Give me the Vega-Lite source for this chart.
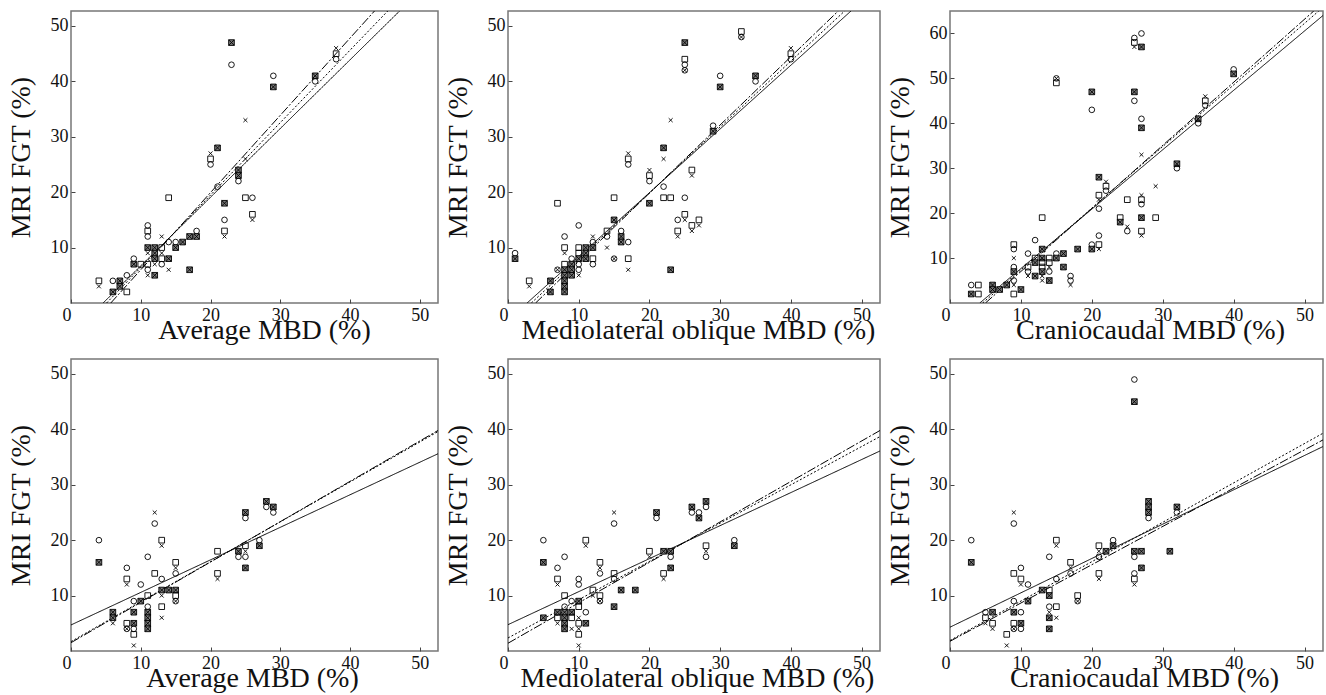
{
  "$schema": "https://vega.github.io/schema/vega-lite/v6.json",
  "padding": {"left": 6, "top": 10, "right": 3, "bottom": 0},
  "background": "white",
  "datasets": {
    "p1": [
      {"mbd":4,"fgt":4,"marker":"s"},{"mbd":4,"fgt":3,"marker":"x"},
      {"mbd":6,"fgt":4,"marker":"o"},{"mbd":6,"fgt":2,"marker":"xs"},
      {"mbd":7,"fgt":4,"marker":"xs"},{"mbd":7,"fgt":3,"marker":"xs"},
      {"mbd":8,"fgt":5,"marker":"o"},{"mbd":8,"fgt":2,"marker":"s"},
      {"mbd":9,"fgt":8,"marker":"o"},{"mbd":9,"fgt":7,"marker":"xs"},
      {"mbd":10,"fgt":7,"marker":"s"},
      {"mbd":11,"fgt":14,"marker":"o"},{"mbd":11,"fgt":13,"marker":"s"},{"mbd":11,"fgt":12,"marker":"o"},{"mbd":11,"fgt":10,"marker":"xs"},{"mbd":11,"fgt":9,"marker":"x"},{"mbd":11,"fgt":7,"marker":"s"},{"mbd":11,"fgt":6,"marker":"o"},{"mbd":11,"fgt":5,"marker":"x"},
      {"mbd":12,"fgt":10,"marker":"xs"},{"mbd":12,"fgt":9,"marker":"xs"},{"mbd":12,"fgt":8,"marker":"xs"},{"mbd":12,"fgt":7,"marker":"x"},{"mbd":12,"fgt":5,"marker":"xs"},
      {"mbd":13,"fgt":12,"marker":"x"},{"mbd":13,"fgt":10,"marker":"s"},{"mbd":13,"fgt":9,"marker":"x"},{"mbd":13,"fgt":8,"marker":"s"},{"mbd":13,"fgt":7,"marker":"o"},
      {"mbd":14,"fgt":19,"marker":"s"},{"mbd":14,"fgt":11,"marker":"o"},{"mbd":14,"fgt":8,"marker":"xs"},{"mbd":14,"fgt":6,"marker":"x"},
      {"mbd":15,"fgt":11,"marker":"o"},{"mbd":15,"fgt":10,"marker":"xs"},
      {"mbd":16,"fgt":11,"marker":"xs"},
      {"mbd":17,"fgt":12,"marker":"xs"},{"mbd":17,"fgt":6,"marker":"xs"},
      {"mbd":18,"fgt":13,"marker":"o"},{"mbd":18,"fgt":12,"marker":"xs"},
      {"mbd":20,"fgt":27,"marker":"x"},{"mbd":20,"fgt":26,"marker":"s"},{"mbd":20,"fgt":25,"marker":"o"},
      {"mbd":21,"fgt":28,"marker":"xs"},{"mbd":21,"fgt":21,"marker":"o"},
      {"mbd":22,"fgt":18,"marker":"xs"},{"mbd":22,"fgt":15,"marker":"o"},{"mbd":22,"fgt":13,"marker":"s"},{"mbd":22,"fgt":12,"marker":"x"},
      {"mbd":23,"fgt":47,"marker":"xs"},{"mbd":23,"fgt":43,"marker":"o"},
      {"mbd":24,"fgt":24,"marker":"xs"},{"mbd":24,"fgt":23,"marker":"xs"},{"mbd":24,"fgt":22,"marker":"o"},
      {"mbd":25,"fgt":33,"marker":"x"},{"mbd":25,"fgt":26,"marker":"x"},{"mbd":25,"fgt":19,"marker":"s"},
      {"mbd":26,"fgt":19,"marker":"o"},{"mbd":26,"fgt":16,"marker":"s"},{"mbd":26,"fgt":15,"marker":"x"},
      {"mbd":29,"fgt":41,"marker":"o"},{"mbd":29,"fgt":39,"marker":"xs"},
      {"mbd":35,"fgt":41,"marker":"xs"},{"mbd":35,"fgt":40,"marker":"o"},
      {"mbd":38,"fgt":46,"marker":"x"},{"mbd":38,"fgt":45,"marker":"s"},{"mbd":38,"fgt":44,"marker":"o"}
    ],
    "p2": [
      {"mbd":1,"fgt":9,"marker":"o"},{"mbd":1,"fgt":8,"marker":"xs"},
      {"mbd":3,"fgt":4,"marker":"s"},{"mbd":3,"fgt":3,"marker":"x"},
      {"mbd":6,"fgt":4,"marker":"xs"},{"mbd":6,"fgt":2,"marker":"xs"},
      {"mbd":7,"fgt":18,"marker":"s"},{"mbd":7,"fgt":6,"marker":"o"},{"mbd":7,"fgt":6,"marker":"x"},
      {"mbd":8,"fgt":12,"marker":"o"},{"mbd":8,"fgt":10,"marker":"s"},{"mbd":8,"fgt":9,"marker":"x"},{"mbd":8,"fgt":7,"marker":"s"},{"mbd":8,"fgt":6,"marker":"xs"},{"mbd":8,"fgt":5,"marker":"xs"},{"mbd":8,"fgt":4,"marker":"xs"},{"mbd":8,"fgt":3,"marker":"xs"},{"mbd":8,"fgt":2,"marker":"xs"},
      {"mbd":9,"fgt":8,"marker":"o"},{"mbd":9,"fgt":7,"marker":"xs"},{"mbd":9,"fgt":6,"marker":"xs"},{"mbd":9,"fgt":5,"marker":"xs"},
      {"mbd":10,"fgt":14,"marker":"o"},{"mbd":10,"fgt":10,"marker":"s"},{"mbd":10,"fgt":9,"marker":"s"},{"mbd":10,"fgt":8,"marker":"xs"},{"mbd":10,"fgt":7,"marker":"o"},{"mbd":10,"fgt":6,"marker":"o"},{"mbd":10,"fgt":5,"marker":"x"},
      {"mbd":11,"fgt":10,"marker":"xs"},{"mbd":11,"fgt":9,"marker":"xs"},{"mbd":11,"fgt":8,"marker":"xs"},
      {"mbd":12,"fgt":12,"marker":"x"},{"mbd":12,"fgt":11,"marker":"o"},{"mbd":12,"fgt":10,"marker":"xs"},{"mbd":12,"fgt":8,"marker":"s"},{"mbd":12,"fgt":7,"marker":"o"},
      {"mbd":14,"fgt":13,"marker":"s"},{"mbd":14,"fgt":12,"marker":"o"},{"mbd":14,"fgt":10,"marker":"x"},
      {"mbd":15,"fgt":19,"marker":"s"},{"mbd":15,"fgt":15,"marker":"xs"},{"mbd":15,"fgt":8,"marker":"o"},{"mbd":15,"fgt":8,"marker":"x"},
      {"mbd":16,"fgt":13,"marker":"o"},{"mbd":16,"fgt":12,"marker":"xs"},{"mbd":16,"fgt":11,"marker":"xs"},
      {"mbd":17,"fgt":27,"marker":"x"},{"mbd":17,"fgt":26,"marker":"s"},{"mbd":17,"fgt":25,"marker":"o"},{"mbd":17,"fgt":11,"marker":"o"},{"mbd":17,"fgt":8,"marker":"s"},{"mbd":17,"fgt":6,"marker":"x"},
      {"mbd":20,"fgt":24,"marker":"x"},{"mbd":20,"fgt":23,"marker":"s"},{"mbd":20,"fgt":22,"marker":"o"},{"mbd":20,"fgt":18,"marker":"xs"},
      {"mbd":22,"fgt":28,"marker":"xs"},{"mbd":22,"fgt":26,"marker":"x"},{"mbd":22,"fgt":21,"marker":"o"},{"mbd":22,"fgt":19,"marker":"s"},
      {"mbd":23,"fgt":33,"marker":"x"},{"mbd":23,"fgt":19,"marker":"s"},{"mbd":23,"fgt":6,"marker":"xs"},
      {"mbd":24,"fgt":15,"marker":"o"},{"mbd":24,"fgt":13,"marker":"s"},{"mbd":24,"fgt":12,"marker":"x"},
      {"mbd":25,"fgt":47,"marker":"xs"},{"mbd":25,"fgt":44,"marker":"s"},{"mbd":25,"fgt":43,"marker":"o"},{"mbd":25,"fgt":42,"marker":"o"},{"mbd":25,"fgt":42,"marker":"x"},{"mbd":25,"fgt":19,"marker":"o"},{"mbd":25,"fgt":16,"marker":"s"},{"mbd":25,"fgt":15,"marker":"x"},
      {"mbd":26,"fgt":24,"marker":"s"},{"mbd":26,"fgt":23,"marker":"x"},{"mbd":26,"fgt":14,"marker":"s"},{"mbd":26,"fgt":13,"marker":"x"},
      {"mbd":27,"fgt":15,"marker":"s"},{"mbd":27,"fgt":14,"marker":"x"},
      {"mbd":29,"fgt":32,"marker":"o"},{"mbd":29,"fgt":31,"marker":"xs"},
      {"mbd":30,"fgt":41,"marker":"o"},{"mbd":30,"fgt":39,"marker":"xs"},
      {"mbd":33,"fgt":49,"marker":"s"},{"mbd":33,"fgt":48,"marker":"o"},{"mbd":33,"fgt":48,"marker":"x"},
      {"mbd":35,"fgt":41,"marker":"xs"},{"mbd":35,"fgt":40,"marker":"o"},
      {"mbd":40,"fgt":46,"marker":"x"},{"mbd":40,"fgt":45,"marker":"s"},{"mbd":40,"fgt":44,"marker":"o"}
    ],
    "p3": [
      {"mbd":3,"fgt":4,"marker":"o"},{"mbd":3,"fgt":2,"marker":"xs"},
      {"mbd":4,"fgt":4,"marker":"s"},{"mbd":4,"fgt":2,"marker":"s"},
      {"mbd":6,"fgt":4,"marker":"xs"},{"mbd":6,"fgt":3,"marker":"xs"},
      {"mbd":7,"fgt":3,"marker":"xs"},
      {"mbd":8,"fgt":4,"marker":"xs"},
      {"mbd":9,"fgt":13,"marker":"s"},{"mbd":9,"fgt":12,"marker":"o"},{"mbd":9,"fgt":10,"marker":"x"},{"mbd":9,"fgt":8,"marker":"o"},{"mbd":9,"fgt":7,"marker":"xs"},{"mbd":9,"fgt":5,"marker":"o"},{"mbd":9,"fgt":4,"marker":"x"},{"mbd":9,"fgt":2,"marker":"s"},
      {"mbd":10,"fgt":3,"marker":"xs"},
      {"mbd":11,"fgt":11,"marker":"o"},{"mbd":11,"fgt":8,"marker":"s"},{"mbd":11,"fgt":7,"marker":"o"},{"mbd":11,"fgt":6,"marker":"x"},
      {"mbd":12,"fgt":14,"marker":"o"},{"mbd":12,"fgt":10,"marker":"s"},{"mbd":12,"fgt":9,"marker":"xs"},{"mbd":12,"fgt":6,"marker":"xs"},
      {"mbd":13,"fgt":19,"marker":"s"},{"mbd":13,"fgt":12,"marker":"xs"},{"mbd":13,"fgt":10,"marker":"xs"},{"mbd":13,"fgt":9,"marker":"s"},{"mbd":13,"fgt":8,"marker":"s"},{"mbd":13,"fgt":7,"marker":"xs"},{"mbd":13,"fgt":6,"marker":"x"},{"mbd":13,"fgt":5,"marker":"x"},
      {"mbd":14,"fgt":10,"marker":"s"},{"mbd":14,"fgt":9,"marker":"s"},{"mbd":14,"fgt":8,"marker":"x"},{"mbd":14,"fgt":7,"marker":"o"},{"mbd":14,"fgt":5,"marker":"xs"},
      {"mbd":15,"fgt":50,"marker":"o"},{"mbd":15,"fgt":50,"marker":"x"},{"mbd":15,"fgt":49,"marker":"s"},{"mbd":15,"fgt":11,"marker":"o"},{"mbd":15,"fgt":10,"marker":"xs"},
      {"mbd":16,"fgt":11,"marker":"xs"},{"mbd":16,"fgt":8,"marker":"xs"},
      {"mbd":17,"fgt":6,"marker":"o"},{"mbd":17,"fgt":5,"marker":"o"},{"mbd":17,"fgt":4,"marker":"x"},
      {"mbd":18,"fgt":12,"marker":"xs"},
      {"mbd":20,"fgt":47,"marker":"xs"},{"mbd":20,"fgt":43,"marker":"o"},{"mbd":20,"fgt":13,"marker":"o"},{"mbd":20,"fgt":12,"marker":"xs"},
      {"mbd":21,"fgt":28,"marker":"xs"},{"mbd":21,"fgt":24,"marker":"s"},{"mbd":21,"fgt":23,"marker":"x"},{"mbd":21,"fgt":21,"marker":"o"},{"mbd":21,"fgt":15,"marker":"o"},{"mbd":21,"fgt":13,"marker":"s"},{"mbd":21,"fgt":12,"marker":"x"},
      {"mbd":22,"fgt":27,"marker":"x"},{"mbd":22,"fgt":26,"marker":"s"},{"mbd":22,"fgt":25,"marker":"o"},
      {"mbd":24,"fgt":19,"marker":"s"},{"mbd":24,"fgt":18,"marker":"xs"},
      {"mbd":25,"fgt":23,"marker":"s"},{"mbd":25,"fgt":17,"marker":"x"},{"mbd":25,"fgt":16,"marker":"o"},
      {"mbd":26,"fgt":59,"marker":"o"},{"mbd":26,"fgt":58,"marker":"s"},{"mbd":26,"fgt":57,"marker":"x"},{"mbd":26,"fgt":47,"marker":"xs"},{"mbd":26,"fgt":45,"marker":"o"},
      {"mbd":27,"fgt":60,"marker":"o"},{"mbd":27,"fgt":57,"marker":"xs"},{"mbd":27,"fgt":41,"marker":"o"},{"mbd":27,"fgt":39,"marker":"xs"},{"mbd":27,"fgt":33,"marker":"x"},{"mbd":27,"fgt":24,"marker":"x"},{"mbd":27,"fgt":23,"marker":"s"},{"mbd":27,"fgt":22,"marker":"o"},{"mbd":27,"fgt":19,"marker":"xs"},{"mbd":27,"fgt":16,"marker":"s"},{"mbd":27,"fgt":15,"marker":"x"},
      {"mbd":29,"fgt":26,"marker":"x"},{"mbd":29,"fgt":19,"marker":"s"},
      {"mbd":32,"fgt":31,"marker":"xs"},{"mbd":32,"fgt":30,"marker":"o"},
      {"mbd":35,"fgt":41,"marker":"xs"},{"mbd":35,"fgt":40,"marker":"o"},
      {"mbd":36,"fgt":46,"marker":"x"},{"mbd":36,"fgt":45,"marker":"s"},{"mbd":36,"fgt":44,"marker":"o"},
      {"mbd":40,"fgt":52,"marker":"o"},{"mbd":40,"fgt":51,"marker":"xs"}
    ],
    "p4": [
      {"mbd":4,"fgt":20,"marker":"o"},{"mbd":4,"fgt":16,"marker":"xs"},
      {"mbd":6,"fgt":7,"marker":"xs"},{"mbd":6,"fgt":6,"marker":"xs"},{"mbd":6,"fgt":5,"marker":"x"},
      {"mbd":8,"fgt":15,"marker":"o"},{"mbd":8,"fgt":13,"marker":"s"},{"mbd":8,"fgt":12,"marker":"x"},{"mbd":8,"fgt":5,"marker":"s"},{"mbd":8,"fgt":4,"marker":"o"},{"mbd":8,"fgt":4,"marker":"x"},
      {"mbd":9,"fgt":9,"marker":"o"},{"mbd":9,"fgt":7,"marker":"xs"},{"mbd":9,"fgt":5,"marker":"xs"},{"mbd":9,"fgt":4,"marker":"o"},{"mbd":9,"fgt":3,"marker":"s"},{"mbd":9,"fgt":1,"marker":"x"},
      {"mbd":10,"fgt":12,"marker":"o"},{"mbd":10,"fgt":9,"marker":"xs"},
      {"mbd":11,"fgt":17,"marker":"o"},{"mbd":11,"fgt":10,"marker":"s"},{"mbd":11,"fgt":8,"marker":"o"},{"mbd":11,"fgt":7,"marker":"xs"},{"mbd":11,"fgt":6,"marker":"xs"},{"mbd":11,"fgt":5,"marker":"xs"},{"mbd":11,"fgt":4,"marker":"xs"},
      {"mbd":12,"fgt":25,"marker":"x"},{"mbd":12,"fgt":23,"marker":"o"},{"mbd":12,"fgt":14,"marker":"s"},
      {"mbd":13,"fgt":20,"marker":"s"},{"mbd":13,"fgt":19,"marker":"x"},{"mbd":13,"fgt":13,"marker":"o"},{"mbd":13,"fgt":11,"marker":"xs"},{"mbd":13,"fgt":10,"marker":"x"},{"mbd":13,"fgt":8,"marker":"s"},{"mbd":13,"fgt":6,"marker":"x"},
      {"mbd":14,"fgt":11,"marker":"xs"},
      {"mbd":15,"fgt":16,"marker":"s"},{"mbd":15,"fgt":15,"marker":"x"},{"mbd":15,"fgt":14,"marker":"o"},{"mbd":15,"fgt":11,"marker":"xs"},{"mbd":15,"fgt":10,"marker":"s"},{"mbd":15,"fgt":9,"marker":"o"},{"mbd":15,"fgt":9,"marker":"x"},
      {"mbd":21,"fgt":18,"marker":"s"},{"mbd":21,"fgt":14,"marker":"s"},{"mbd":21,"fgt":13,"marker":"x"},
      {"mbd":24,"fgt":18,"marker":"xs"},{"mbd":24,"fgt":17,"marker":"o"},
      {"mbd":25,"fgt":25,"marker":"xs"},{"mbd":25,"fgt":24,"marker":"o"},{"mbd":25,"fgt":19,"marker":"s"},{"mbd":25,"fgt":18,"marker":"x"},{"mbd":25,"fgt":17,"marker":"o"},{"mbd":25,"fgt":15,"marker":"xs"},
      {"mbd":27,"fgt":20,"marker":"o"},{"mbd":27,"fgt":19,"marker":"xs"},
      {"mbd":28,"fgt":27,"marker":"xs"},{"mbd":28,"fgt":26,"marker":"o"},
      {"mbd":29,"fgt":26,"marker":"xs"},{"mbd":29,"fgt":25,"marker":"o"}
    ],
    "p5": [
      {"mbd":5,"fgt":20,"marker":"o"},{"mbd":5,"fgt":16,"marker":"xs"},{"mbd":5,"fgt":6,"marker":"xs"},
      {"mbd":7,"fgt":15,"marker":"o"},{"mbd":7,"fgt":13,"marker":"s"},{"mbd":7,"fgt":12,"marker":"x"},{"mbd":7,"fgt":7,"marker":"xs"},{"mbd":7,"fgt":6,"marker":"s"},{"mbd":7,"fgt":5,"marker":"x"},
      {"mbd":8,"fgt":17,"marker":"o"},{"mbd":8,"fgt":10,"marker":"s"},{"mbd":8,"fgt":8,"marker":"o"},{"mbd":8,"fgt":7,"marker":"xs"},{"mbd":8,"fgt":6,"marker":"xs"},{"mbd":8,"fgt":5,"marker":"xs"},{"mbd":8,"fgt":4,"marker":"xs"},
      {"mbd":9,"fgt":9,"marker":"o"},{"mbd":9,"fgt":7,"marker":"xs"},{"mbd":9,"fgt":6,"marker":"s"},{"mbd":9,"fgt":4,"marker":"x"},
      {"mbd":10,"fgt":13,"marker":"o"},{"mbd":10,"fgt":12,"marker":"o"},{"mbd":10,"fgt":9,"marker":"xs"},{"mbd":10,"fgt":8,"marker":"s"},{"mbd":10,"fgt":6,"marker":"x"},{"mbd":10,"fgt":5,"marker":"s"},{"mbd":10,"fgt":4,"marker":"x"},{"mbd":10,"fgt":3,"marker":"s"},{"mbd":10,"fgt":1,"marker":"x"},
      {"mbd":11,"fgt":20,"marker":"s"},{"mbd":11,"fgt":19,"marker":"x"},{"mbd":11,"fgt":7,"marker":"o"},{"mbd":11,"fgt":5,"marker":"xs"},
      {"mbd":12,"fgt":11,"marker":"s"},{"mbd":12,"fgt":10,"marker":"x"},
      {"mbd":13,"fgt":16,"marker":"s"},{"mbd":13,"fgt":15,"marker":"x"},{"mbd":13,"fgt":14,"marker":"o"},{"mbd":13,"fgt":10,"marker":"s"},{"mbd":13,"fgt":9,"marker":"o"},{"mbd":13,"fgt":9,"marker":"x"},
      {"mbd":15,"fgt":25,"marker":"x"},{"mbd":15,"fgt":23,"marker":"o"},{"mbd":15,"fgt":14,"marker":"s"},{"mbd":15,"fgt":13,"marker":"o"},{"mbd":15,"fgt":8,"marker":"xs"},
      {"mbd":16,"fgt":11,"marker":"xs"},
      {"mbd":18,"fgt":11,"marker":"xs"},
      {"mbd":20,"fgt":18,"marker":"s"},{"mbd":20,"fgt":17,"marker":"x"},
      {"mbd":21,"fgt":25,"marker":"xs"},{"mbd":21,"fgt":24,"marker":"o"},
      {"mbd":22,"fgt":18,"marker":"xs"},{"mbd":22,"fgt":14,"marker":"s"},{"mbd":22,"fgt":13,"marker":"x"},
      {"mbd":23,"fgt":18,"marker":"xs"},{"mbd":23,"fgt":17,"marker":"o"},{"mbd":23,"fgt":15,"marker":"xs"},
      {"mbd":26,"fgt":26,"marker":"xs"},{"mbd":26,"fgt":25,"marker":"o"},
      {"mbd":27,"fgt":25,"marker":"o"},{"mbd":27,"fgt":24,"marker":"xs"},
      {"mbd":28,"fgt":27,"marker":"xs"},{"mbd":28,"fgt":26,"marker":"o"},{"mbd":28,"fgt":19,"marker":"s"},{"mbd":28,"fgt":18,"marker":"x"},{"mbd":28,"fgt":17,"marker":"o"},
      {"mbd":32,"fgt":20,"marker":"o"},{"mbd":32,"fgt":19,"marker":"xs"}
    ],
    "p6": [
      {"mbd":3,"fgt":20,"marker":"o"},{"mbd":3,"fgt":16,"marker":"xs"},
      {"mbd":5,"fgt":7,"marker":"o"},{"mbd":5,"fgt":6,"marker":"s"},{"mbd":5,"fgt":5,"marker":"x"},
      {"mbd":6,"fgt":7,"marker":"xs"},{"mbd":6,"fgt":5,"marker":"s"},{"mbd":6,"fgt":4,"marker":"x"},
      {"mbd":8,"fgt":3,"marker":"s"},{"mbd":8,"fgt":1,"marker":"x"},
      {"mbd":9,"fgt":25,"marker":"x"},{"mbd":9,"fgt":23,"marker":"o"},{"mbd":9,"fgt":14,"marker":"s"},{"mbd":9,"fgt":9,"marker":"o"},{"mbd":9,"fgt":7,"marker":"xs"},{"mbd":9,"fgt":5,"marker":"s"},{"mbd":9,"fgt":4,"marker":"o"},{"mbd":9,"fgt":4,"marker":"x"},
      {"mbd":10,"fgt":15,"marker":"o"},{"mbd":10,"fgt":13,"marker":"s"},{"mbd":10,"fgt":12,"marker":"x"},{"mbd":10,"fgt":7,"marker":"o"},{"mbd":10,"fgt":5,"marker":"xs"},{"mbd":10,"fgt":4,"marker":"o"},
      {"mbd":11,"fgt":12,"marker":"o"},{"mbd":11,"fgt":9,"marker":"xs"},
      {"mbd":13,"fgt":11,"marker":"xs"},
      {"mbd":14,"fgt":17,"marker":"o"},{"mbd":14,"fgt":11,"marker":"s"},{"mbd":14,"fgt":10,"marker":"xs"},{"mbd":14,"fgt":8,"marker":"o"},{"mbd":14,"fgt":7,"marker":"x"},{"mbd":14,"fgt":6,"marker":"xs"},{"mbd":14,"fgt":4,"marker":"xs"},
      {"mbd":15,"fgt":20,"marker":"s"},{"mbd":15,"fgt":19,"marker":"x"},{"mbd":15,"fgt":13,"marker":"o"},{"mbd":15,"fgt":8,"marker":"s"},{"mbd":15,"fgt":6,"marker":"x"},
      {"mbd":17,"fgt":16,"marker":"s"},{"mbd":17,"fgt":15,"marker":"x"},{"mbd":17,"fgt":14,"marker":"o"},
      {"mbd":18,"fgt":10,"marker":"s"},{"mbd":18,"fgt":9,"marker":"o"},{"mbd":18,"fgt":9,"marker":"x"},
      {"mbd":21,"fgt":19,"marker":"s"},{"mbd":21,"fgt":18,"marker":"x"},{"mbd":21,"fgt":17,"marker":"o"},{"mbd":21,"fgt":14,"marker":"s"},{"mbd":21,"fgt":13,"marker":"x"},
      {"mbd":22,"fgt":18,"marker":"xs"},
      {"mbd":23,"fgt":20,"marker":"o"},{"mbd":23,"fgt":19,"marker":"xs"},
      {"mbd":26,"fgt":49,"marker":"o"},{"mbd":26,"fgt":45,"marker":"xs"},{"mbd":26,"fgt":18,"marker":"xs"},{"mbd":26,"fgt":17,"marker":"o"},{"mbd":26,"fgt":14,"marker":"o"},{"mbd":26,"fgt":13,"marker":"s"},{"mbd":26,"fgt":12,"marker":"x"},
      {"mbd":27,"fgt":18,"marker":"xs"},{"mbd":27,"fgt":15,"marker":"xs"},
      {"mbd":28,"fgt":27,"marker":"xs"},{"mbd":28,"fgt":26,"marker":"xs"},{"mbd":28,"fgt":25,"marker":"xs"},{"mbd":28,"fgt":24,"marker":"o"},
      {"mbd":31,"fgt":18,"marker":"xs"},
      {"mbd":32,"fgt":26,"marker":"xs"},{"mbd":32,"fgt":25,"marker":"o"}
    ],
    "l1": [
      {"mbd":4.6,"fgt":0,"line":"solid"},{"mbd":47.1,"fgt":52.7,"line":"solid"},
      {"mbd":5.1,"fgt":0,"line":"dotted"},{"mbd":45.4,"fgt":52.7,"line":"dotted"},
      {"mbd":5.7,"fgt":0,"line":"dashdot"},{"mbd":43.5,"fgt":52.7,"line":"dashdot"}
    ],
    "l2": [
      {"mbd":2.7,"fgt":0,"line":"solid"},{"mbd":48.5,"fgt":52.7,"line":"solid"},
      {"mbd":3.3,"fgt":0,"line":"dotted"},{"mbd":47.6,"fgt":52.7,"line":"dotted"},
      {"mbd":3.9,"fgt":0,"line":"dashdot"},{"mbd":46.7,"fgt":52.7,"line":"dashdot"}
    ],
    "l3": [
      {"mbd":4.2,"fgt":0,"line":"solid"},{"mbd":52.6,"fgt":64,"line":"solid"},
      {"mbd":4.6,"fgt":0,"line":"dotted"},{"mbd":52.0,"fgt":65,"line":"dotted"},
      {"mbd":5.0,"fgt":0,"line":"dashdot"},{"mbd":51.3,"fgt":65,"line":"dashdot"}
    ],
    "l4": [
      {"mbd":0,"fgt":4.7,"line":"solid"},{"mbd":52.6,"fgt":35.6,"line":"solid"},
      {"mbd":0,"fgt":1.7,"line":"dotted"},{"mbd":52.6,"fgt":39.6,"line":"dotted"},
      {"mbd":0,"fgt":1.5,"line":"dashdot"},{"mbd":52.6,"fgt":39.8,"line":"dashdot"}
    ],
    "l5": [
      {"mbd":0,"fgt":4.75,"line":"solid"},{"mbd":52.6,"fgt":36.1,"line":"solid"},
      {"mbd":0,"fgt":2.35,"line":"dotted"},{"mbd":52.6,"fgt":38.7,"line":"dotted"},
      {"mbd":0,"fgt":1.4,"line":"dashdot"},{"mbd":52.6,"fgt":39.8,"line":"dashdot"}
    ],
    "l6": [
      {"mbd":0,"fgt":4.3,"line":"solid"},{"mbd":52.6,"fgt":36.9,"line":"solid"},
      {"mbd":0,"fgt":1.9,"line":"dotted"},{"mbd":52.6,"fgt":39.3,"line":"dotted"},
      {"mbd":0,"fgt":1.75,"line":"dashdot"},{"mbd":52.6,"fgt":38.1,"line":"dashdot"}
    ]
  },
  "columns": 3,
  "spacing": {"row": 56, "column": 70},
  "bounds": "flush",
  "concat": [
    {
      "width": 367, "height": 292,
      "layer": [
        {"data": {"name": "l1"}, "mark": {"type": "line", "color": "black", "strokeWidth": 1, "clip": true},
         "encoding": {
           "x": {"field": "mbd", "type": "quantitative", "scale": {"domain": [0, 52.6], "nice": false, "zero": false}, "axis": {"title": "Average MBD (%)", "values": [0,10,20,30,40,50], "titleX": 193}},
           "y": {"field": "fgt", "type": "quantitative", "scale": {"domain": [0, 52.7], "nice": false, "zero": false}, "axis": {"title": "MRI FGT (%)", "values": [10,20,30,40,50]}},
           "detail": {"field": "line"},
           "strokeDash": {"field": "line", "type": "nominal", "scale": {"domain": ["solid","dotted","dashdot"], "range": [[1,0],[2,2],[9,2,2,2]]}, "legend": null}}},
        {"data": {"name": "p1"}, "mark": {"type": "point", "filled": true, "stroke": "black", "strokeWidth": 0.9, "size": 32, "opacity": 1},
         "encoding": {
           "x": {"field": "mbd", "type": "quantitative"},
           "y": {"field": "fgt", "type": "quantitative"},
           "shape": {"field": "marker", "type": "nominal", "scale": {"domain": ["o","xs","s","x"], "range": ["circle","M-1,-1H1V1H-1ZM-1,-1L1,1M-1,1L1,-1","square","M-0.7,-0.7L0.7,0.7M-0.7,0.7L0.7,-0.7"]}, "legend": null},
           "fill": {"field": "marker", "type": "nominal", "scale": {"domain": ["o","xs","s","x"], "range": ["transparent","#7a7a7a","transparent","transparent"]}, "legend": null}}}
      ]
    },
    {
      "width": 372, "height": 292,
      "layer": [
        {"data": {"name": "l2"}, "mark": {"type": "line", "color": "black", "strokeWidth": 1, "clip": true},
         "encoding": {
           "x": {"field": "mbd", "type": "quantitative", "scale": {"domain": [0, 52.6], "nice": false, "zero": false}, "axis": {"title": "Mediolateral oblique MBD (%)", "values": [0,10,20,30,40,50], "titleX": 190}},
           "y": {"field": "fgt", "type": "quantitative", "scale": {"domain": [0, 52.7], "nice": false, "zero": false}, "axis": {"title": "MRI FGT (%)", "values": [10,20,30,40,50]}},
           "detail": {"field": "line"},
           "strokeDash": {"field": "line", "type": "nominal", "scale": {"domain": ["solid","dotted","dashdot"], "range": [[1,0],[2,2],[9,2,2,2]]}, "legend": null}}},
        {"data": {"name": "p2"}, "mark": {"type": "point", "filled": true, "stroke": "black", "strokeWidth": 0.9, "size": 32, "opacity": 1},
         "encoding": {
           "x": {"field": "mbd", "type": "quantitative"},
           "y": {"field": "fgt", "type": "quantitative"},
           "shape": {"field": "marker", "type": "nominal", "scale": {"domain": ["o","xs","s","x"], "range": ["circle","M-1,-1H1V1H-1ZM-1,-1L1,1M-1,1L1,-1","square","M-0.7,-0.7L0.7,0.7M-0.7,0.7L0.7,-0.7"]}, "legend": null},
           "fill": {"field": "marker", "type": "nominal", "scale": {"domain": ["o","xs","s","x"], "range": ["transparent","#7a7a7a","transparent","transparent"]}, "legend": null}}}
      ]
    },
    {
      "width": 373, "height": 292,
      "layer": [
        {"data": {"name": "l3"}, "mark": {"type": "line", "color": "black", "strokeWidth": 1, "clip": true},
         "encoding": {
           "x": {"field": "mbd", "type": "quantitative", "scale": {"domain": [0, 52.6], "nice": false, "zero": false}, "axis": {"title": "Craniocaudal MBD (%)", "values": [0,10,20,30,40,50], "titleX": 200}},
           "y": {"field": "fgt", "type": "quantitative", "scale": {"domain": [0, 65], "nice": false, "zero": false}, "axis": {"title": "MRI FGT (%)", "values": [10,20,30,40,50,60]}},
           "detail": {"field": "line"},
           "strokeDash": {"field": "line", "type": "nominal", "scale": {"domain": ["solid","dotted","dashdot"], "range": [[1,0],[2,2],[9,2,2,2]]}, "legend": null}}},
        {"data": {"name": "p3"}, "mark": {"type": "point", "filled": true, "stroke": "black", "strokeWidth": 0.9, "size": 32, "opacity": 1},
         "encoding": {
           "x": {"field": "mbd", "type": "quantitative"},
           "y": {"field": "fgt", "type": "quantitative"},
           "shape": {"field": "marker", "type": "nominal", "scale": {"domain": ["o","xs","s","x"], "range": ["circle","M-1,-1H1V1H-1ZM-1,-1L1,1M-1,1L1,-1","square","M-0.7,-0.7L0.7,0.7M-0.7,0.7L0.7,-0.7"]}, "legend": null},
           "fill": {"field": "marker", "type": "nominal", "scale": {"domain": ["o","xs","s","x"], "range": ["transparent","#7a7a7a","transparent","transparent"]}, "legend": null}}}
      ]
    },
    {
      "width": 367, "height": 292,
      "layer": [
        {"data": {"name": "l4"}, "mark": {"type": "line", "color": "black", "strokeWidth": 1, "clip": true},
         "encoding": {
           "x": {"field": "mbd", "type": "quantitative", "scale": {"domain": [0, 52.6], "nice": false, "zero": false}, "axis": {"title": "Average MBD (%)", "values": [0,10,20,30,40,50], "titleX": 181}},
           "y": {"field": "fgt", "type": "quantitative", "scale": {"domain": [0, 52.7], "nice": false, "zero": false}, "axis": {"title": "MRI FGT (%)", "values": [10,20,30,40,50]}},
           "detail": {"field": "line"},
           "strokeDash": {"field": "line", "type": "nominal", "scale": {"domain": ["solid","dotted","dashdot"], "range": [[1,0],[2,2],[9,2,2,2]]}, "legend": null}}},
        {"data": {"name": "p4"}, "mark": {"type": "point", "filled": true, "stroke": "black", "strokeWidth": 0.9, "size": 32, "opacity": 1},
         "encoding": {
           "x": {"field": "mbd", "type": "quantitative"},
           "y": {"field": "fgt", "type": "quantitative"},
           "shape": {"field": "marker", "type": "nominal", "scale": {"domain": ["o","xs","s","x"], "range": ["circle","M-1,-1H1V1H-1ZM-1,-1L1,1M-1,1L1,-1","square","M-0.7,-0.7L0.7,0.7M-0.7,0.7L0.7,-0.7"]}, "legend": null},
           "fill": {"field": "marker", "type": "nominal", "scale": {"domain": ["o","xs","s","x"], "range": ["transparent","#7a7a7a","transparent","transparent"]}, "legend": null}}}
      ]
    },
    {
      "width": 372, "height": 292,
      "layer": [
        {"data": {"name": "l5"}, "mark": {"type": "line", "color": "black", "strokeWidth": 1, "clip": true},
         "encoding": {
           "x": {"field": "mbd", "type": "quantitative", "scale": {"domain": [0, 52.6], "nice": false, "zero": false}, "axis": {"title": "Mediolateral oblique MBD (%)", "values": [0,10,20,30,40,50], "titleX": 189}},
           "y": {"field": "fgt", "type": "quantitative", "scale": {"domain": [0, 52.7], "nice": false, "zero": false}, "axis": {"title": "MRI FGT (%)", "values": [10,20,30,40,50]}},
           "detail": {"field": "line"},
           "strokeDash": {"field": "line", "type": "nominal", "scale": {"domain": ["solid","dotted","dashdot"], "range": [[1,0],[2,2],[9,2,2,2]]}, "legend": null}}},
        {"data": {"name": "p5"}, "mark": {"type": "point", "filled": true, "stroke": "black", "strokeWidth": 0.9, "size": 32, "opacity": 1},
         "encoding": {
           "x": {"field": "mbd", "type": "quantitative"},
           "y": {"field": "fgt", "type": "quantitative"},
           "shape": {"field": "marker", "type": "nominal", "scale": {"domain": ["o","xs","s","x"], "range": ["circle","M-1,-1H1V1H-1ZM-1,-1L1,1M-1,1L1,-1","square","M-0.7,-0.7L0.7,0.7M-0.7,0.7L0.7,-0.7"]}, "legend": null},
           "fill": {"field": "marker", "type": "nominal", "scale": {"domain": ["o","xs","s","x"], "range": ["transparent","#7a7a7a","transparent","transparent"]}, "legend": null}}}
      ]
    },
    {
      "width": 373, "height": 292,
      "layer": [
        {"data": {"name": "l6"}, "mark": {"type": "line", "color": "black", "strokeWidth": 1, "clip": true},
         "encoding": {
           "x": {"field": "mbd", "type": "quantitative", "scale": {"domain": [0, 52.6], "nice": false, "zero": false}, "axis": {"title": "Craniocaudal MBD (%)", "values": [0,10,20,30,40,50], "titleX": 194}},
           "y": {"field": "fgt", "type": "quantitative", "scale": {"domain": [0, 52.7], "nice": false, "zero": false}, "axis": {"title": "MRI FGT (%)", "values": [10,20,30,40,50]}},
           "detail": {"field": "line"},
           "strokeDash": {"field": "line", "type": "nominal", "scale": {"domain": ["solid","dotted","dashdot"], "range": [[1,0],[2,2],[9,2,2,2]]}, "legend": null}}},
        {"data": {"name": "p6"}, "mark": {"type": "point", "filled": true, "stroke": "black", "strokeWidth": 0.9, "size": 32, "opacity": 1},
         "encoding": {
           "x": {"field": "mbd", "type": "quantitative"},
           "y": {"field": "fgt", "type": "quantitative"},
           "shape": {"field": "marker", "type": "nominal", "scale": {"domain": ["o","xs","s","x"], "range": ["circle","M-1,-1H1V1H-1ZM-1,-1L1,1M-1,1L1,-1","square","M-0.7,-0.7L0.7,0.7M-0.7,0.7L0.7,-0.7"]}, "legend": null},
           "fill": {"field": "marker", "type": "nominal", "scale": {"domain": ["o","xs","s","x"], "range": ["transparent","#7a7a7a","transparent","transparent"]}, "legend": null}}}
      ]
    }
  ],
  "resolve": {"scale": {"x": "independent", "y": "independent", "shape": "independent", "fill": "independent", "strokeDash": "independent"}},
  "config": {
    "font": "Liberation Serif",
    "view": {"stroke": "#777777", "strokeWidth": 1.5},
    "axis": {
      "grid": false,
      "domain": false,
      "labelFont": "Liberation Serif",
      "labelFontSize": 18,
      "labelColor": "#111111",
      "titleFont": "Liberation Serif",
      "titleFontSize": 28,
      "titleFontWeight": "normal",
      "titleColor": "#111111",
      "tickColor": "#444444",
      "tickSize": -4,
      "tickWidth": 1
    },
    "axisY": {"labelPadding": 7, "titlePadding": 15},
    "axisX": {"labelPadding": 7, "titlePadding": -8, "labelAlign": {"condition": {"test": "datum.value == 0", "value": "right"}, "value": "center"}}
  }
}
